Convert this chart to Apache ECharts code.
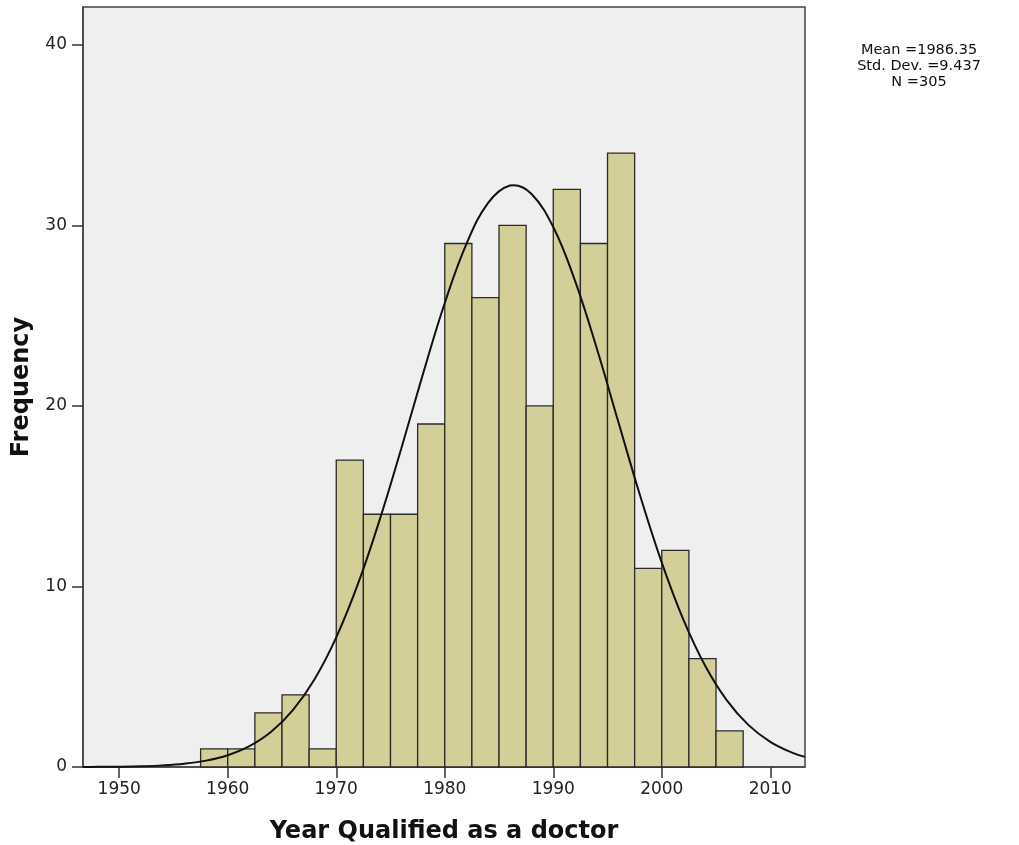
<!DOCTYPE html>
<html><head><meta charset="utf-8">
<script src="https://cdn.jsdelivr.net/npm/echarts@6/dist/echarts.min.js"></script>
<style>html,body{margin:0;padding:0;background:#fff}#c{width:1019px;height:845px}</style>
</head><body><div id="c"></div>
<script>
// Histogram bins (start, end) and counts
const binStarts = [1957.5,1960,1962.5,1965,1967.5,1970,1972.5,1975,1977.5,1980,1982.5,1985,1987.5,1990,1992.5,1995,1997.5,2000,2002.5,2005];
const binWidth = 2.5;
const counts = [1,1,3,4,1,17,14,14,19,29,26,30,20,32,29,34,11,12,6,2];
// Normal curve points
const curveX = [1946.66,1948,1950,1952,1954,1956,1958,1960,1962,1964,1966,1968,1970,1972,1974,1976,1978,1980,1982,1984,1986,1986.35,1988,1990,1992,1994,1996,1998,2000,2002,2004,2006,2008,2010,2012,2013.2];
const curveY = [0.005,0.008,0.019,0.043,0.09,0.183,0.354,0.654,1.155,1.951,3.152,4.866,7.184,10.14,13.69,17.66,21.79,25.70,28.98,31.25,32.21,32.23,31.74,29.91,26.94,23.21,19.11,15.04,11.32,8.15,5.61,3.69,2.32,1.395,0.80,0.56];
const xTicks = [1950,1960,1970,1980,1990,2000,2010];
const yTicks = [0,10,20,30,40];
const statsText = ['Mean =1986.35','Std. Dev. =9.437','N =305'];

const binData = binStarts.map((s,i)=>[s, s+binWidth, counts[i]]);
const curveData = curveX.map((x,i)=>[x, curveY[i]]);

const chart = echarts.init(document.getElementById('c'));
const font = '"DejaVu Sans", "Open Sans", sans-serif';
chart.setOption({
  animation:false,
  backgroundColor:'#fff',
  grid:{left:83,top:7,right:214,bottom:78,outerBoundsMode:'none',containLabel:false,show:true,backgroundColor:'#efefef',borderColor:'#444',borderWidth:1.5},
  graphic:[{type:'text',x:919,y:42,style:{text:statsText.join('\n'),font:'14.5px '+font,fill:'#111',align:'center',verticalAlign:'top',lineHeight:16}}],
  xAxis:{type:'value',min:1946.66,max:2013.2,
    name:'Year Qualified as a doctor',nameLocation:'middle',nameGap:53,
    nameTextStyle:{fontFamily:font,fontSize:24,fontWeight:'bold',color:'#111'},
    axisLine:{show:true,lineStyle:{color:'#444',width:1.5}},
    axisTick:{show:true,length:11,inside:false,customValues:xTicks,lineStyle:{color:'#333',width:1.5}},
    axisLabel:{customValues:xTicks,formatter:v=>String(v),fontFamily:font,fontSize:17,color:'#222',margin:14},
    splitLine:{show:false}},
  yAxis:{type:'value',min:0,max:42.1,
    name:'Frequency',nameLocation:'middle',nameGap:49,
    nameTextStyle:{fontFamily:font,fontSize:24,fontWeight:'bold',color:'#111'},
    axisLine:{show:true,lineStyle:{color:'#444',width:1.5}},
    axisTick:{show:true,length:11,customValues:yTicks,lineStyle:{color:'#333',width:1.5}},
    axisLabel:{customValues:yTicks,formatter:v=>String(v),fontFamily:font,fontSize:17,color:'#222',margin:16},
    splitLine:{show:false}},
  series:[
    {type:'custom',data:binData,encode:{x:[0,1],y:2},
      renderItem:function(params,api){
        const p0=api.coord([api.value(0),api.value(2)]);
        const p1=api.coord([api.value(1),0]);
        return {type:'rect',shape:{x:p0[0],y:p0[1],width:p1[0]-p0[0],height:p1[1]-p0[1]},
          style:{fill:'#d4cf99',stroke:'#2a2a2a',lineWidth:1.3}};
      },z:2},
    {type:'line',data:curveData,smooth:0.4,showSymbol:false,symbol:'none',
      lineStyle:{color:'#111',width:2},z:3}
  ]
});
</script></body></html>
